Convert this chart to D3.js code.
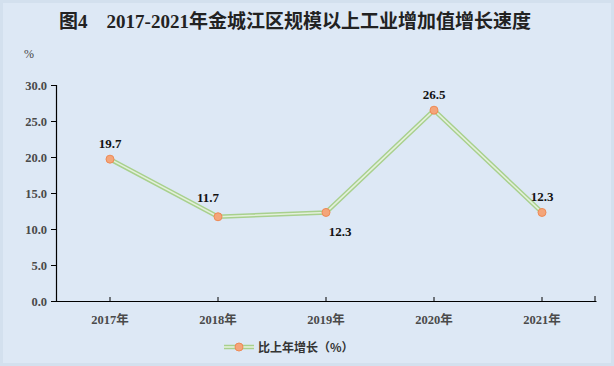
<!DOCTYPE html>
<html><head><meta charset="utf-8">
<script src="https://cdn.jsdelivr.net/npm/d3@7"></script>
<style>
html,body{margin:0;padding:0;background:#fff;}
svg{display:block;}
</style></head>
<body>
<script>
const categories = ["2017年","2018年","2019年","2020年","2021年"];
const values = [19.7, 11.7, 12.3, 26.5, 12.3];
const yTicks = [0,5,10,15,20,25,30];
const seriesName = "比上年增长（%）";
const title = "图4　2017-2021年金城江区规模以上工业增加值增长速度";

const W = 614, H = 366;
const svg = d3.select("body").append("svg").attr("width", W).attr("height", H);
svg.append("rect").attr("x",0).attr("y",0).attr("width",W).attr("height",H).attr("fill","#d3e0ee");
svg.append("rect").attr("x",3).attr("y",3).attr("width",W-6).attr("height",H-6).attr("fill","#dde8f5");

const serif = "'Liberation Serif','Times New Roman','Noto Sans CJK SC',serif";
const cjk = "'Liberation Serif','Noto Sans CJK SC',sans-serif";

svg.append("text").attr("x", 295).attr("y", 28).attr("text-anchor","middle")
  .attr("font-family", cjk).attr("font-weight","bold").attr("font-size", 19).attr("fill","#222")
  .text(title);

svg.append("text").attr("x", 24).attr("y", 58).attr("font-family", serif).attr("font-size", 12)
  .attr("fill","#444").text("%");

const x = d3.scaleBand().domain(categories).range([56, 596]);
const y = d3.scaleLinear().domain([0,30]).range([301, 85]);

const yAxis = svg.append("g").attr("transform","translate(56,0)")
  .call(d3.axisLeft(y).tickValues(yTicks).tickFormat(d3.format(".1f")).tickSizeOuter(0).tickSize(5).tickPadding(4));
yAxis.select(".domain").attr("stroke","#000").attr("stroke-width",1.2);
yAxis.selectAll(".tick line").attr("stroke","#000");
yAxis.selectAll("text").attr("font-family", serif).attr("font-weight","bold").attr("font-size",12.5).attr("fill","#4a4a4a");

const xAxis = svg.append("g").attr("transform","translate(0,301)")
  .call(d3.axisBottom(x).tickSize(0).tickPadding(14));
xAxis.select(".domain").attr("stroke","#000").attr("stroke-width",1.2);
xAxis.selectAll("text").attr("font-family", cjk).attr("font-weight","bold").attr("font-size",12.5).attr("fill","#4a4a4a");
xAxis.selectAll(".tick").append("line").attr("x1",0).attr("x2",0).attr("y1",0).attr("y2",-4).attr("stroke","#000");
xAxis.append("line").attr("x1",595).attr("x2",595).attr("y1",0).attr("y2",-5).attr("stroke","#000");

const cx = d => x(d) + x.bandwidth()/2;
const line = d3.line().x((d,i)=>cx(categories[i])).y(d=>y(d));
svg.append("path").datum(values).attr("d", line).attr("fill","none").attr("stroke","#a8d08d").attr("stroke-width",4.5);
svg.append("path").datum(values).attr("d", line).attr("fill","none").attr("stroke","#e4f0dc").attr("stroke-width",1.6);

svg.selectAll("circle.pt").data(values).enter().append("circle").attr("class","pt")
  .attr("cx",(d,i)=>cx(categories[i])).attr("cy",d=>y(d)).attr("r",4)
  .attr("fill","#f4a57a").attr("stroke","#ee8a55").attr("stroke-width",1);

const offs = [[0,-15],[-10,-19],[14,20],[0,-15],[0,-15]];
svg.selectAll("text.lbl").data(values).enter().append("text").attr("class","lbl")
  .attr("x",(d,i)=>cx(categories[i])+offs[i][0]).attr("y",(d,i)=>y(d)+offs[i][1]+4)
  .attr("text-anchor","middle").attr("font-family", serif).attr("font-weight","bold").attr("font-size",13).attr("fill","#111")
  .text(d=>d.toFixed(1));

const lg = svg.append("g").attr("transform","translate(0,347)");
lg.append("line").attr("x1",224).attr("x2",254).attr("y1",0).attr("y2",0).attr("stroke","#a8d08d").attr("stroke-width",4.5);
lg.append("line").attr("x1",224).attr("x2",254).attr("y1",0).attr("y2",0).attr("stroke","#e4f0dc").attr("stroke-width",1.6);
lg.append("circle").attr("cx",239).attr("cy",0).attr("r",4).attr("fill","#f4a57a").attr("stroke","#ee8a55");
lg.append("text").attr("x",258).attr("y",5).attr("font-family","'Noto Sans CJK SC',sans-serif").attr("font-weight","bold")
  .attr("font-size",12).attr("fill","#333").text(seriesName);
</script>
</body></html>
